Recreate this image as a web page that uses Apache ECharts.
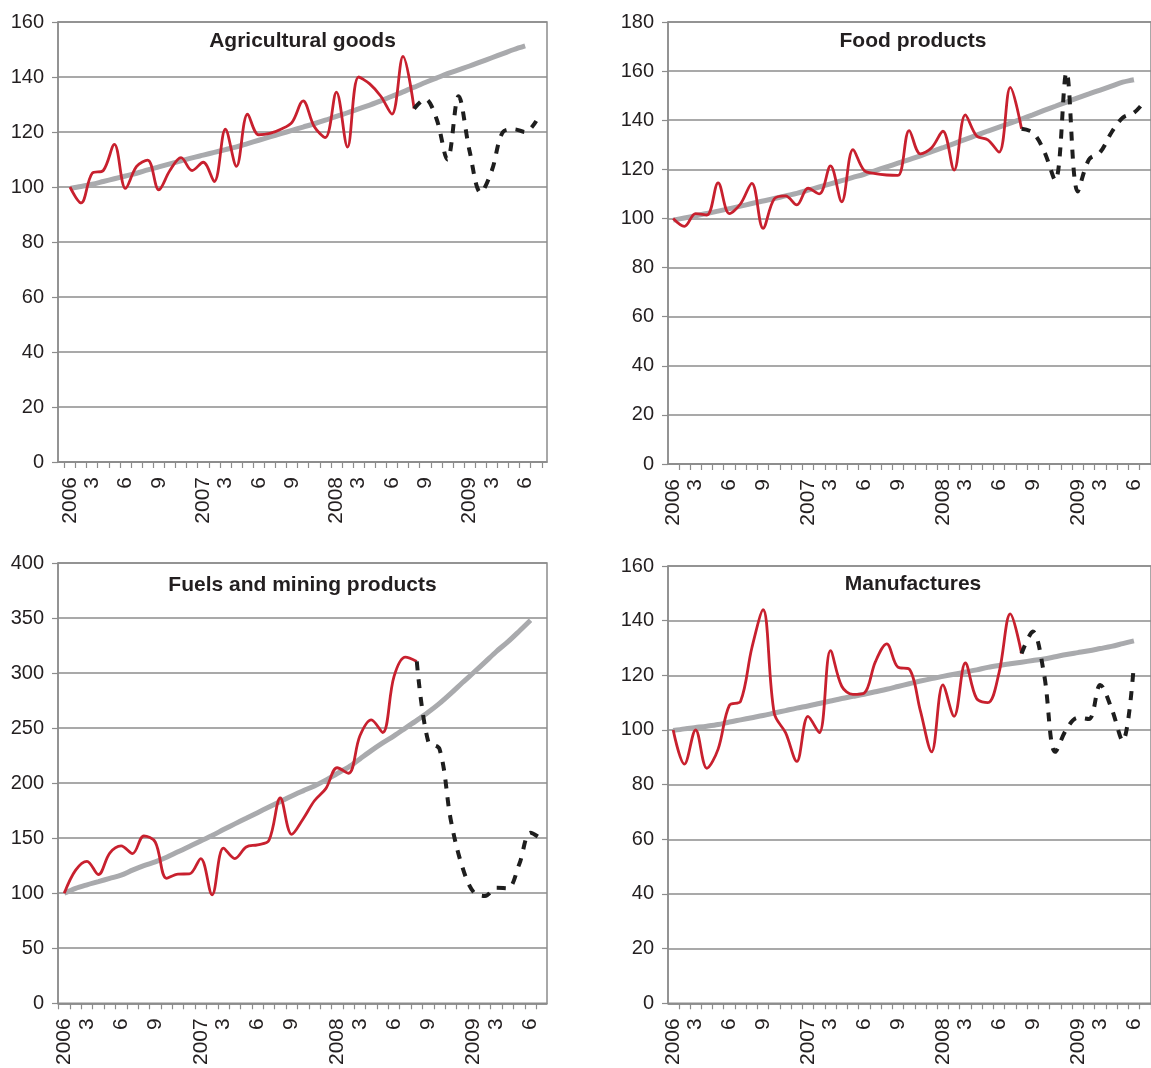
<!DOCTYPE html>
<html>
<head>
<meta charset="utf-8">
<script src="https://cdn.jsdelivr.net/npm/echarts@6/dist/echarts.min.js"></script>
<style>
  html, body { margin: 0; padding: 0; background: #fff; }
  #main { width: 1151px; height: 1068px; }
</style>
</head>
<body>
<div id="main"></div>
<script>
// x is month number: 0 = 2006-01 ... 42 = 2009-07
var tickLabels = [
	'2006', '', '3', '', '', '6', '', '', '9', '', '', '',
	'2007', '', '3', '', '', '6', '', '', '9', '', '', '',
	'2008', '', '3', '', '', '6', '', '', '9', '', '', '',
	'2009', '', '3', '', '', '6', ''
];

// Agricultural goods
var agriActual = [100, 94.2, 105, 106, 115.5, 99.5, 107.5, 109.8, 99, 106, 110.7, 106, 109, 102, 121, 107.5,
	126.5, 119, 119.5, 121, 123.5, 131.3, 122, 118, 134.5, 114.5, 140, 137.5, 133, 126.5, 147.5, 128.5];
var agriRecent = [128.5, 132, 125, 110, 133, 113, 98, 106, 120, 121, 120, 124];
var agriTrend = [99.5, 100.2, 101, 102, 103, 104, 105, 106.2, 107.3, 108.4, 109.5, 110.6, 111.6, 112.6, 113.6,
	114.6, 115.8, 117, 118.2, 119.4, 120.6, 121.8, 123, 124.3, 125.7, 127, 128.4, 129.8, 131.3, 133, 134.6,
	136.3, 138, 139.6, 141.2, 142.6, 144, 145.5, 147, 148.5, 150, 151.3];

// Food products
var foodActual = [100, 96.8, 102, 101.4, 114.5, 102, 106, 114.3, 96, 108, 109.2, 105.5, 112.3, 110, 121.4, 106.8,
	128, 119.5, 118.3, 117.7, 117.5, 135.8, 126.3, 128.8, 135.5, 119.7, 142.2, 133.6, 132, 127, 153.4, 136.5];
var foodRecent = [136.5, 135, 127.5, 115.5, 159.5, 111, 124, 127, 135, 141, 143, 148];
var foodTrend = [99.3, 100.2, 101.1, 102, 103, 104, 105, 106.1, 107.1, 108.1, 109.2, 110.2, 111.5, 112.8, 114.1,
	115.4, 116.7, 118, 119.5, 121, 122.5, 124, 125.5, 127.2, 128.8, 130.5, 132.2, 133.9, 135.6, 137.2, 138.8,
	140.5, 142.2, 144, 145.7, 147.4, 149.1, 150.7, 152.3, 153.9, 155.5, 156.5];

// Fuels and mining products
var fuelActual = [100, 121, 129, 117, 136.5, 143, 136, 152, 146.5, 113.5, 117.4, 117.5, 131.5, 98.5, 141, 131.5,
	142, 144, 148, 186.5, 153.5, 167.5, 184, 195, 214, 209, 243, 257.5, 246, 297, 314.5, 310.6];
var fuelRecent = [310.6, 238, 231, 166, 124, 101, 97.5, 105, 104.5, 126, 155, 149];
var fuelTrend = [100, 104.4, 107.6, 110.5, 113.5, 116.4, 121, 125.1, 128.5, 132.7, 137.6, 142.4, 147.5, 152.4,
	157.8, 163, 168.1, 173.2, 178.3, 183.4, 188.4, 193, 197.5, 202.7, 208.8, 214.5, 222, 229.5, 236.5, 243,
	250, 257, 264.4, 272.5, 281.6, 291.2, 300.5, 310, 319.6, 328.3, 338, 348];

// Manufactures
var manuActual = [100, 87.5, 100, 86, 93, 109, 110.5, 130, 144, 106, 99, 88.5, 105, 99, 129, 116,
	113, 113.5, 125, 131.5, 123, 122.3, 107, 92, 116.5, 105, 124.5, 111.5, 110, 121, 142.5, 128];
var manuRecent = [128, 136, 120.5, 92, 100.3, 104.5, 104, 116.5, 108, 96, 124];
var manuTrend = [99.8, 100.4, 100.9, 101.4, 102, 102.9, 103.7, 104.5, 105.3, 106.2, 107.1, 108, 108.8, 109.7,
	110.6, 111.5, 112.3, 113.1, 114, 114.9, 115.9, 116.9, 117.9, 118.8, 119.6, 120.4, 121.2, 122, 122.9,
	123.6, 124.2, 124.8, 125.4, 126, 126.8, 127.6, 128.3, 129, 129.8, 130.6, 131.6, 132.6];

var panels = [
	{ title: 'Agricultural goods', left: 58, top: 22, width: 489, height: 440, max: 160, step: 20, titleTop: 31,
		xMin: -1.08, xMax: 42.97, actual: agriActual, recent: agriRecent, trend: agriTrend },
	{ title: 'Food products', left: 668, top: 22, width: 490, height: 442, max: 180, step: 20, titleTop: 31,
		xMin: -0.46, xMax: 42.52, actual: foodActual, recent: foodRecent, trend: foodTrend },
	{ title: 'Fuels and mining products', left: 58, top: 563, width: 489, height: 445, max: 400, step: 50, titleTop: 575,
		xMin: -0.55, xMax: 42.45, actual: fuelActual, recent: fuelRecent, trend: fuelTrend },
	{ title: 'Manufactures', left: 668, top: 566, width: 490, height: 442, max: 160, step: 20, titleTop: 574,
		xMin: -0.46, xMax: 42.52, actual: manuActual, recent: manuRecent, trend: manuTrend }
];

var gridColor = '#8c8c8c';
var font = 'Liberation Sans, Arial, sans-serif';

// ticks sit between months, labels on the months that have text
var tickPos = [];
for (var t = 0; t <= tickLabels.length; t++) tickPos.push(t - 0.5);
var labelPos = [];
for (var t = 0; t < tickLabels.length; t++) if (tickLabels[t] !== '') labelPos.push(t);

function toPairs(arr, start) {
	var out = [];
	for (var i = 0; i < arr.length; i++) out.push([start + i, arr[i]]);
	return out;
}

var titles = [], grids = [], xAxes = [], yAxes = [], series = [];
for (var k = 0; k < panels.length; k++) {
	var p = panels[k];
	titles.push({
		text: p.title,
		left: p.left + p.width / 2,
		top: p.titleTop,
		textAlign: 'center',
		padding: 0,
		textStyle: { fontFamily: font, fontSize: 21, fontWeight: 'bold', color: '#231f20' }
	});
	grids.push({
		left: p.left, top: p.top, width: p.width, height: p.height,
		show: true, borderColor: gridColor, borderWidth: 1.5
	});
	xAxes.push({
		type: 'value',
		gridIndex: k,
		position: 'bottom',
		min: p.xMin, max: p.xMax,
		axisLine: { onZero: false, lineStyle: { color: gridColor, width: 1.5 } },
		axisTick: { show: true, customValues: tickPos, length: 6, lineStyle: { color: gridColor, width: 1.2 } },
		axisLabel: {
			customValues: labelPos, rotate: 90, margin: 15,
			fontFamily: font, fontSize: 21, color: '#231f20',
			formatter: function (v) { return tickLabels[Math.round(v)]; }
		},
		splitLine: { show: false }
	});
	yAxes.push({
		type: 'value',
		gridIndex: k,
		position: 'left',
		min: 0, max: p.max, interval: p.step,
		axisLine: { show: true, onZero: false, lineStyle: { color: gridColor, width: 1.5 } },
		axisTick: { show: true, length: 6, lineStyle: { color: gridColor, width: 1.2 } },
		axisLabel: { margin: 14, fontFamily: font, fontSize: 20, color: '#231f20' },
		splitLine: { lineStyle: { color: gridColor, width: 1.5 } }
	});

	series.push({
		type: 'line', xAxisIndex: k, yAxisIndex: k, data: toPairs(p.trend, 0),
		symbol: 'none', smooth: 0.3, z: 2,
		lineStyle: { color: '#a9aaad', width: 5 }
	});
	series.push({
		type: 'line', xAxisIndex: k, yAxisIndex: k, data: toPairs(p.actual, 0),
		symbol: 'none', smooth: 0.35, z: 3,
		lineStyle: { color: '#c8202e', width: 2.8 }
	});
	// dashed series picks up where the red one ends
	series.push({
		type: 'line', xAxisIndex: k, yAxisIndex: k, data: toPairs(p.recent, p.actual.length - 1),
		symbol: 'none', smooth: 0.35, z: 4,
		lineStyle: { color: '#1e1e1e', width: 4, type: [9, 9] }
	});
}

var myChart = echarts.init(document.getElementById('main'));
myChart.setOption({
	animation: false,
	backgroundColor: '#fff',
	title: titles,
	grid: grids,
	xAxis: xAxes,
	yAxis: yAxes,
	series: series
});
</script>
</body>
</html>
